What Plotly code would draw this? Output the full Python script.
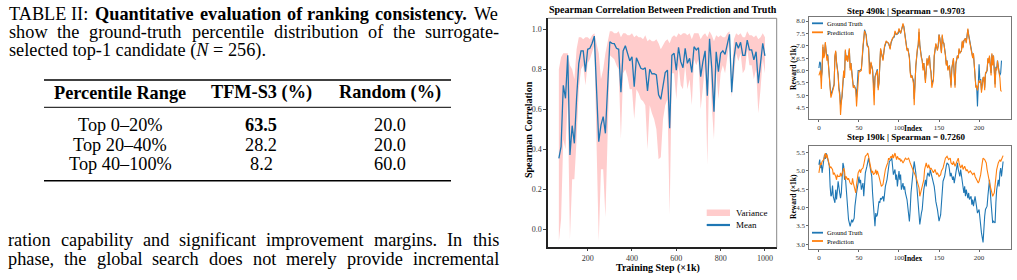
import plotly.graph_objects as go

W, H = 1017, 280
SERIF = "Liberation Serif"

# ---------------- data ----------------
table_header = ["Percentile Range", "TFM-S3 (%)", "Random (%)"]
table_ranges = ["Top 0–20%", "Top 20–40%", "Top 40–100%"]
table_tfm = ["63.5", "28.2", "8.2"]
table_random = ["20.0", "20.0", "60.0"]

steps = [70, 80, 90, 100, 110, 120, 130, 140, 150, 160, 170, 180, 190, 200, 210, 220, 230,
         250, 260, 270, 280, 300, 310, 320, 330, 340, 350, 360, 370, 380, 390, 400, 410, 420,
         430, 440, 450, 460, 470, 480, 490, 500, 510, 520, 530, 540, 550, 560, 570, 580, 590,
         600, 610, 620, 630, 640, 650, 660, 670, 680, 690, 700, 710, 720, 730, 740, 750, 760,
         770, 780, 790, 800, 810, 820, 830, 840, 850, 860, 870, 880, 890, 900, 910, 920, 930,
         940, 950, 960, 970, 980, 990, 1000]
mean_corr = [0.355, 0.413, 0.72, 0.655, 0.87, 0.372, 0.518, 0.43, 0.655, 0.83, 0.892, 0.892, 0.788,
             0.90, 0.905, 0.93, 0.966, 0.438, 0.521, 0.563, 0.48, 0.938, 0.93, 0.928, 0.905, 0.90,
             0.685, 0.892, 0.918, 0.883, 0.842, 0.863, 0.713, 0.858, 0.833, 0.805, 0.80, 0.808,
             0.692, 0.80, 0.777, 0.778, 0.772, 0.672, 0.65, 0.73, 0.784, 0.796, 0.505, 0.87, 0.88,
             0.796, 0.91, 0.838, 0.808, 0.905, 0.83, 0.855, 0.784, 0.913, 0.897, 0.908, 0.763,
             0.838, 0.892, 0.668, 0.952, 0.805, 0.588, 0.888, 0.788, 0.88, 0.892, 0.875, 0.925,
             0.975, 0.685, 0.855, 0.935, 0.905, 0.935, 0.87, 0.87, 0.946, 0.897, 0.897, 0.847,
             0.888, 0.73, 0.838, 0.93, 0.867]
lower_corr = [-0.06, 0.05, 0.45, 0.40, 0.65, -0.05, 0.25, 0.25, 0.45, 0.70, 0.80, 0.82, 0.72,
              0.83, 0.85, 0.88, 0.92, -0.06, 0.30, 0.30, 0.06, 0.87, 0.86, 0.85, 0.82, 0.80,
              0.45, 0.78, 0.80, 0.76, 0.70, 0.70, 0.55, 0.70, 0.68, 0.65, 0.64, 0.62, 0.40,
              0.62, 0.58, 0.55, 0.50, 0.35, 0.36, 0.55, 0.62, 0.65, 0.07, 0.78, 0.78, 0.65,
              0.82, 0.72, 0.70, 0.82, 0.70, 0.75, 0.62, 0.85, 0.82, 0.85, 0.60, 0.70, 0.82,
              0.32, 0.90, 0.62, 0.45, 0.80, 0.65, 0.78, 0.82, 0.78, 0.86, 0.94, 0.66, 0.78,
              0.88, 0.84, 0.88, 0.78, 0.80, 0.90, 0.82, 0.82, 0.75, 0.80, 0.58, 0.70, 0.85, 0.78]
upper_corr = [0.80, 0.86, 0.88, 0.88, 0.88, 0.82, 0.80, 0.75, 0.90, 0.96, 0.96, 0.95, 0.96,
              0.96, 0.95, 0.97, 0.98, 0.88, 0.75, 0.80, 0.88, 0.99, 0.99, 0.98, 0.98, 0.99,
              0.96, 0.98, 0.98, 0.97, 0.97, 0.98, 0.96, 0.97, 0.96, 0.96, 0.95, 0.97, 0.94,
              0.95, 0.94, 0.94, 0.95, 0.93, 0.90, 0.92, 0.94, 0.95, 0.93, 0.96, 0.97, 0.96,
              0.98, 0.97, 0.98, 0.98, 0.97, 0.98, 0.95, 0.98, 0.98, 0.98, 0.95, 0.97, 0.98,
              0.96, 0.99, 0.97, 0.94, 0.97, 0.96, 0.97, 0.96, 0.96, 0.98, 0.99, 0.75, 0.95,
              0.98, 0.97, 0.98, 0.96, 0.96, 0.99, 0.97, 0.97, 0.96, 0.97, 0.95, 0.96, 0.98, 0.96]

# Step 490k panel
idx_490 = [0, 1, 2, 3, 4, 5, 6, 7, 8, 10, 11, 12, 14, 15, 17, 19, 20, 21, 22, 24, 25, 26, 27, 28,
           29, 31, 32, 33, 34, 35, 36, 38, 39, 40, 42, 43, 44, 46, 47, 49, 50, 51, 53, 55, 56, 57,
           59, 60, 62, 63, 64, 65, 67, 68, 69, 70, 72, 73, 74, 75, 77, 79, 80, 82, 84, 85, 87, 89,
           90, 92, 94, 95, 97, 99, 100, 102, 104, 105, 106, 108, 109, 110, 111, 113, 114, 115, 116,
           118, 119, 120, 121, 123, 124, 125, 126, 128, 129, 130, 131, 133, 134, 135, 136, 138,
           139, 140, 141, 143, 144, 145, 146, 148, 149, 150, 151, 153, 154, 155, 156, 158, 159,
           160, 161, 163, 164, 165, 166, 168, 169, 170, 171, 173, 174, 175, 176, 178, 179, 180,
           181, 183, 184, 185, 186, 187, 188, 190, 191, 192, 193, 195, 196, 197, 198, 200, 201,
           202, 203, 205, 206, 207, 208, 210, 211, 212, 213, 215, 216, 217, 218, 220, 221, 222,
           223, 225, 226, 227, 228]
pred_490 = [5.8, 5.95, 6.0, 5.25, 5.9, 7.05, 6.5, 6.6, 7.15, 6.4, 6.6, 6.0, 5.3, 4.9, 5.2, 5.4,
            6.6, 6.8, 6.3, 5.8, 5.2, 5.0, 4.2, 4.75, 4.9, 6.0, 5.7, 6.85, 6.4, 6.6, 6.35, 6.9,
            6.0, 6.3, 5.6, 5.3, 5.4, 5.2, 4.55, 5.9, 6.0, 5.95, 6.0, 7.0, 7.55, 7.6, 7.4, 7.0,
            6.95, 5.9, 5.85, 6.35, 6.0, 5.5, 4.6, 5.7, 5.9, 6.0, 5.2, 5.5, 6.9, 6.6, 6.4, 7.0,
            7.2, 7.15, 7.1, 6.85, 7.15, 7.3, 7.4, 7.6, 7.45, 7.55, 7.7, 7.5, 7.85, 7.9, 7.75,
            7.3, 7.1, 6.8, 6.9, 6.5, 5.9, 5.7, 5.8, 5.5, 4.6, 5.5, 6.2, 6.9, 7.05, 7.7, 7.0,
            6.5, 6.4, 6.0, 6.3, 5.5, 6.1, 6.5, 6.2, 6.6, 6.1, 5.9, 5.3, 5.6, 6.6, 6.8, 7.1,
            6.8, 7.0, 7.45, 7.3, 6.7, 7.45, 7.1, 7.1, 6.6, 6.2, 6.4, 6.0, 6.2, 5.5, 5.3, 6.1,
            6.5, 5.8, 5.3, 6.3, 6.6, 6.5, 6.9, 6.7, 6.8, 7.2, 6.9, 7.2, 7.3, 7.1, 7.5, 7.7,
            7.4, 7.2, 6.9, 6.7, 6.5, 6.7, 5.8, 5.3, 5.4, 5.2, 5.6, 5.5, 5.6, 5.1, 5.7, 5.75,
            5.2, 5.9, 6.0, 6.5, 6.3, 6.6, 5.8, 6.7, 6.2, 6.6, 5.3, 6.1, 6.0, 6.4, 5.9, 5.7,
            5.2, 5.15]
gt_490 = [6.1, 6.35, 6.3, 5.7, 5.95, 6.95, 6.6, 6.65, 7.1, 6.5, 6.65, 6.1, 5.35, 5.0, 5.25, 5.45,
          6.55, 6.75, 6.35, 5.85, 5.3, 5.1, 4.6, 4.8, 4.95, 5.95, 5.8, 6.8, 6.45, 6.6, 6.4, 6.85,
          6.1, 6.3, 5.65, 5.35, 5.4, 5.25, 4.9, 6.0, 6.0, 6.0, 6.05, 7.0, 7.5, 7.65, 7.45, 7.1,
          6.9, 6.0, 5.9, 6.3, 6.05, 5.6, 5.0, 5.75, 5.95, 6.05, 5.3, 5.5, 6.85, 6.6, 6.45, 6.95,
          7.15, 7.15, 7.1, 6.9, 7.1, 7.3, 7.35, 7.5, 7.45, 7.5, 7.65, 7.5, 7.8, 7.85, 7.8,
          7.35, 7.15, 6.85, 6.9, 6.55, 6.0, 5.75, 5.8, 5.6, 4.85, 5.55, 6.15, 6.85, 7.0, 7.55,
          7.05, 6.55, 6.4, 6.1, 6.3, 5.6, 6.1, 6.45, 6.25, 6.6, 6.15, 5.95, 5.45, 5.65, 6.55,
          6.75, 7.05, 6.85, 7.0, 7.45, 7.3, 6.75, 7.4, 7.15, 7.1, 6.65, 6.25, 6.4, 6.05, 6.2,
          5.6, 5.4, 6.1, 6.45, 5.85, 5.4, 6.25, 6.6, 6.5, 6.85, 6.7, 6.8, 7.15, 6.95, 7.2,
          7.3, 7.15, 7.45, 7.65, 7.45, 7.25, 6.95, 6.75, 6.55, 6.65, 5.9, 5.35, 5.35, 4.55,
          6.25, 5.6, 5.65, 5.2, 5.7, 5.7, 5.3, 5.85, 6.0, 6.45, 6.35, 6.55, 5.9, 6.65, 6.3,
          6.6, 5.45, 6.15, 6.05, 6.4, 5.95, 5.8, 5.9, 6.4]

# Step 190k panel
idx_190_gt = [0, 1, 2, 3, 4, 5, 6, 7, 8, 9, 11, 13, 14, 15, 16, 17, 18, 20, 21, 22, 23, 24, 26, 27,
              28, 29, 30, 31, 32, 33, 34, 35, 36, 37, 39, 40, 41, 42, 44, 45, 46, 47, 49, 50, 51,
              52, 53, 55, 56, 57, 58, 60, 61, 62, 63, 65, 66, 67, 68, 70, 71, 72, 73, 75, 76, 77,
              78, 80, 81, 82, 83, 85, 86, 87, 88, 90, 91, 92, 93, 95, 96, 97, 98, 100, 101, 102,
              103, 105, 106, 107, 108, 110, 111, 113, 114, 115, 117, 118, 119, 121, 122, 123, 125,
              126, 128, 129, 130, 131, 133, 134, 135, 136, 138, 139, 140, 141, 143, 144, 145, 146,
              148, 149, 150, 152, 153, 154, 155, 157, 158, 159, 160, 162, 163, 164, 165, 167, 168,
              169, 171, 172, 173, 174, 176, 177, 178, 179, 181, 182, 183, 184, 186, 187, 188, 190,
              191, 192, 193, 195, 196, 197, 198, 200, 201, 202, 203, 205, 206, 207, 208, 210, 211,
              212, 213, 215, 216, 217, 218, 220, 221, 222, 224, 225, 226, 227, 228, 229, 230]
gt_190 = [5.17, 5.31, 5.08, 5.22, 4.95, 5.17, 5.31, 5.45, 5.33, 5.49, 5.33, 5.13, 4.58, 4.31, 4.35,
          4.6, 4.3, 4.13, 4.49, 4.22, 4.45, 4.72, 4.4, 4.26, 4.4, 5.04, 5.22, 5.13, 4.76, 4.85,
          4.58, 4.26, 3.85, 3.67, 3.49, 3.58, 3.67, 3.6, 3.71, 4.04, 4.26, 4.4, 4.67, 4.85, 4.67,
          4.76, 4.49, 4.67, 4.31, 4.76, 4.95, 5.13, 5.31, 5.35, 5.22, 4.95, 4.85, 4.4, 4.04,
          3.49, 3.85, 3.76, 3.8, 4.17, 4.13, 4.26, 4.22, 4.31, 4.17, 4.4, 4.58, 4.76, 4.95,
          5.13, 5.26, 5.31, 5.35, 5.13, 4.9, 5.04, 4.76, 4.9, 4.58, 5.0, 4.76, 4.9, 4.49, 4.67,
          4.49, 4.58, 4.4, 4.22, 3.95, 3.62, 3.95, 4.4, 4.85, 5.13, 5.26, 4.95, 4.67, 4.31,
          3.95, 3.54, 3.85, 3.95, 4.22, 4.49, 4.76, 4.58, 4.85, 4.95, 4.85, 5.04, 4.95, 4.85,
          4.72, 4.58, 4.4, 4.17, 3.95, 3.76, 3.63, 3.8, 4.13, 4.49, 4.72, 4.85, 5.04, 5.13,
          5.22, 5.17, 5.04, 4.85, 4.95, 4.76, 4.85, 4.67, 4.95, 5.13, 5.22, 5.04, 4.85, 5.04,
          4.85, 4.67, 4.4, 4.58, 4.31, 4.49, 4.26, 4.4, 4.22, 4.31, 4.08, 4.22, 4.04, 4.31,
          4.13, 3.99, 3.85, 3.95, 3.67, 3.49, 3.31, 3.05, 3.49, 3.76, 3.95, 4.04, 4.31, 4.49,
          4.76, 4.13, 3.67, 3.58, 3.63, 3.58, 4.13, 4.49, 4.76, 4.58, 4.95, 5.08, 4.85, 5.13,
          5.26]
idx_190_pred = [0, 1, 2, 3, 4, 6, 8, 9, 10, 11, 13, 14, 15, 17, 18, 19, 21, 22, 23, 24, 26, 27, 28,
                29, 31, 32, 33, 34, 36, 37, 38, 39, 41, 42, 43, 44, 46, 47, 48, 49, 51, 52, 53, 55,
                56, 57, 58, 60, 61, 62, 63, 65, 66, 67, 68, 70, 71, 72, 73, 75, 76, 77, 78, 80, 81,
                82, 83, 85, 86, 87, 88, 90, 91, 92, 93, 95, 96, 97, 98, 100, 101, 102, 103, 105,
                106, 107, 108, 110, 112, 114, 116, 118, 121, 123, 125, 126, 128, 129, 131, 132,
                134, 135, 136, 137, 139, 140, 142, 143, 145, 147, 148, 150, 152, 153, 155, 157,
                158, 160, 162, 164, 165, 167, 168, 170, 172, 174, 175, 177, 179, 180, 182, 184,
                185, 187, 189, 190, 192, 194, 195, 197, 199, 200, 202, 204, 205, 207, 209, 210,
                212, 214, 216, 217, 219, 221, 222, 224, 226, 227, 229, 230]
pred_190 = [4.95, 5.13, 5.22, 5.17, 5.26, 5.31, 5.49, 5.35, 5.45, 5.35, 5.17, 5.08, 5.11, 5.04, 4.9,
            4.95, 4.85, 4.76, 4.9, 4.85, 4.85, 4.95, 4.85, 4.95, 5.08, 5.0, 4.76, 4.85, 4.76, 4.8,
            4.72, 4.67, 4.63, 4.8, 4.67, 4.54, 4.4, 4.63, 4.76, 4.95, 5.04, 4.95, 5.04, 5.08,
            5.17, 5.31, 5.4, 5.45, 5.49, 5.4, 5.26, 5.08, 4.95, 5.0, 4.9, 4.95, 5.04, 4.9, 5.0,
            4.85, 4.76, 4.67, 4.58, 4.63, 4.76, 4.85, 5.04, 5.17, 5.22, 5.35, 5.31, 5.4, 5.35,
            5.45, 5.35, 5.49, 5.4, 5.31, 5.4, 5.31, 5.35, 5.26, 5.31, 5.22, 5.26, 5.31, 5.35,
            5.31, 5.35, 5.22, 5.13, 5.0, 4.85, 4.72, 4.54, 4.31, 4.49, 4.58, 4.76, 5.04, 5.22,
            5.13, 5.08, 5.17, 5.04, 5.08, 5.0, 4.95, 5.04, 4.9, 4.95, 4.85, 4.9, 5.0, 5.08, 5.22,
            5.35, 5.4, 5.31, 5.35, 5.22, 5.17, 5.26, 5.13, 5.22, 5.35, 5.22, 5.08, 5.17, 5.04,
            5.13, 5.0, 5.04, 4.95, 5.0, 4.95, 4.9, 4.95, 4.85, 4.76, 4.67, 4.72, 4.9, 5.22, 5.35,
            5.31, 5.22, 5.04, 4.76, 4.58, 4.4, 4.31, 4.4, 4.76, 5.04, 5.22, 5.31, 5.26, 5.4, 5.42]

BLUE = "#1f77b4"
ORANGE = "#ff7f0e"
PINK = "#ffcccc"

# approximate Times (Liberation Serif) advance widths, per 1000 em, for justified lines
_ROMAN = dict(zip("abcdefghijklmnopqrstuvwxyz",
                  [444, 500, 444, 500, 444, 333, 500, 500, 278, 278, 500, 278, 778, 500, 500, 500,
                   500, 333, 389, 278, 500, 500, 722, 500, 500, 444]))
_ROMAN.update({"T": 611, "A": 722, "B": 667, "L": 611, "E": 611, "I": 333, "W": 944,
               " ": 250, ".": 250, ",": 250, ":": 278, "-": 333})
_BOLD = dict(zip("abcdefghijklmnopqrstuvwxyz",
                 [500, 556, 444, 556, 444, 333, 500, 556, 278, 333, 556, 278, 833, 556, 500, 556,
                  556, 444, 389, 333, 556, 500, 722, 500, 500, 444]))
_BOLD.update({"Q": 778, " ": 250, ".": 250, ",": 250, "-": 333})


def word_width(word, size, bold):
    table = _BOLD if bold else _ROMAN
    return sum(table.get(c, 500) for c in word) * size / 1000.0


def fx(px):
    return px / W


def fy(py):
    return 1 - py / H


fig = go.Figure()

# main chart
fig.add_trace(go.Scatter(x=steps, y=lower_corr, mode="lines", line=dict(width=0, color=PINK),
                         hoverinfo="skip", showlegend=False, xaxis="x", yaxis="y"))
fig.add_trace(go.Scatter(x=steps, y=upper_corr, mode="lines", line=dict(width=0, color=PINK),
                         fill="tonexty", fillcolor=PINK, showlegend=False, xaxis="x", yaxis="y"))
fig.add_trace(go.Scatter(x=steps, y=mean_corr, mode="lines", line=dict(width=1.3, color=BLUE),
                         showlegend=False, xaxis="x", yaxis="y"))

# step 490k
fig.add_trace(go.Scatter(x=idx_490, y=gt_490, mode="lines", line=dict(width=1.1, color=BLUE),
                         showlegend=False, xaxis="x2", yaxis="y2"))
fig.add_trace(go.Scatter(x=idx_490, y=pred_490, mode="lines", line=dict(width=1.1, color=ORANGE),
                         showlegend=False, xaxis="x2", yaxis="y2"))
# step 190k
fig.add_trace(go.Scatter(x=idx_190_gt, y=gt_190, mode="lines", line=dict(width=1.1, color=BLUE),
                         showlegend=False, xaxis="x3", yaxis="y3"))
fig.add_trace(go.Scatter(x=idx_190_pred, y=pred_190, mode="lines", line=dict(width=1.1, color=ORANGE),
                         showlegend=False, xaxis="x3", yaxis="y3"))

tickfont_main = dict(family=SERIF, size=8, color="#333")
tickfont_small = dict(family=SERIF, size=7, color="#333")

small_axis = dict(showgrid=False, zeroline=False, showline=True, mirror=True, linecolor="#777",
                  linewidth=1, ticks="outside", ticklen=2, tickcolor="#666", tickfont=tickfont_small)

layout = dict(
    width=W, height=H, margin=dict(l=0, r=0, t=0, b=0),
    paper_bgcolor="white", plot_bgcolor="white", showlegend=False,
    font=dict(family=SERIF, color="black"),
    xaxis=dict(domain=[fx(548), fx(776.7)], range=[21, 1053], tickvals=[200, 400, 600, 800, 1000],
               showgrid=False, zeroline=False, showline=True, linecolor="#222", linewidth=1.5,
               ticks="outside", ticklen=2, tickcolor="#444", tickfont=tickfont_main, anchor="y"),
    yaxis=dict(domain=[fy(247.3), fy(18.3)], range=[-0.09, 1.055],
               tickvals=[0.0, 0.2, 0.4, 0.6, 0.8, 1.0], tickformat=".1f",
               showgrid=False, zeroline=False, showline=True, linecolor="#222", linewidth=1.5,
               ticks="outside", ticklen=3, tickcolor="#444", tickfont=tickfont_main, anchor="x"),
    xaxis2=dict(domain=[fx(809.3), fx(1010.7)], range=[-12, 239.5], tickvals=[0, 50, 100, 150, 200],
                anchor="y2", **small_axis),
    yaxis2=dict(domain=[fy(119), fy(17.3)], range=[4.04, 8.15],
                tickvals=[4.5, 5.0, 5.5, 6.0, 6.5, 7.0, 7.5, 8.0], tickformat=".1f",
                anchor="x2", **small_axis),
    xaxis3=dict(domain=[fx(809.3), fx(1010.7)], range=[-12, 239.5], tickvals=[0, 50, 100, 150, 200],
                anchor="y3", **small_axis),
    yaxis3=dict(domain=[fy(249), fy(145.7)], range=[2.87, 5.69],
                tickvals=[3.0, 3.5, 4.0, 4.5, 5.0, 5.5], tickformat=".1f",
                anchor="x3", **small_axis),
)
fig.update_layout(**layout)

shapes = []
ann = []


def text(x, y, s, size, bold=False, xanchor="left", angle=0, color="black"):
    if bold:
        s = "<b>" + s + "</b>"
    ann.append(dict(x=fx(x), y=fy(y), xref="paper", yref="paper", text=s, showarrow=False,
                    xanchor=xanchor, yanchor="middle", textangle=angle,
                    font=dict(family=SERIF, size=size, color=color)))


def justified(words, x0, x1, y, size):
    """words: list of (word, bold). Spread between x0 and x1 like TeX justification."""
    widths = [word_width(w, size, b) for w, b in words]
    gap = (x1 - x0 - sum(widths)) / (len(words) - 1)
    x = x0
    for (w, b), wd in zip(words, widths):
        text(x, y, w, size, bold=b)
        x += wd + gap


def hline(x0, x1, y, width, color="black"):
    shapes.append(dict(type="line", xref="paper", yref="paper", x0=fx(x0), x1=fx(x1),
                       y0=fy(y), y1=fy(y), line=dict(color=color, width=width)))


# main frame top/right (gray)
shapes.append(dict(type="line", xref="x domain", yref="y domain", x0=0, x1=1, y0=1, y1=1,
                   line=dict(color="#888", width=1)))
shapes.append(dict(type="line", xref="x domain", yref="y domain", x0=1, x1=1, y0=0, y1=1,
                   line=dict(color="#888", width=1)))

BODY = 18.3
LEFT, RIGHT = 7, 497
justified([("TABLE II:", False), ("Quantitative", True), ("evaluation", True), ("of", True),
           ("ranking", True), ("consistency.", True), ("We", False)], LEFT, RIGHT, 13.5, BODY)
justified([(w, False) for w in "show the ground-truth percentile distribution of the surrogate-".split()],
          LEFT, RIGHT, 32, BODY)
text(LEFT, 50.5, "selected top-1 candidate (<i>N</i> = 256).", BODY)

# table
hline(44, 451, 80, 1.6)
hline(44, 451, 107.3, 1.0)
hline(44, 451, 180.7, 1.6)
col_x = [120, 261, 390]
for cx, h in zip(col_x, table_header):
    text(cx, 93, h, BODY, bold=True, xanchor="center")
row_y = [125.5, 145, 163.5]
best = max(table_tfm, key=float)
for ry, r, t, rnd in zip(row_y, table_ranges, table_tfm, table_random):
    text(col_x[0], ry, r, BODY, xanchor="center")
    text(col_x[1], ry, t, BODY, bold=(t == best), xanchor="center")
    text(col_x[2], ry, rnd, BODY, xanchor="center")

# body text
justified([(w, False) for w in "ration capability and significant improvement margins. In this".split()],
          6, RIGHT, 240.5, BODY)
justified([(w, False) for w in "phase, the global search does not merely provide incremental".split()],
          6, RIGHT, 259, BODY)

# main chart titles and labels
text(662.5, 10, "Spearman Correlation Between Prediction and Truth", 10, bold=True, xanchor="center")
text(658, 267.5, "Training Step (×1k)", 10, bold=True, xanchor="center")
text(528, 130, "Spearman Correlation", 10, bold=True, xanchor="center", angle=-90)

# main legend
shapes.append(dict(type="rect", xref="paper", yref="paper", x0=fx(706.7), x1=fx(730),
                   y0=fy(216), y1=fy(209.5), fillcolor=PINK, line=dict(width=0)))
shapes.append(dict(type="line", xref="paper", yref="paper", x0=fx(706.7), x1=fx(730),
                   y0=fy(225), y1=fy(225), line=dict(color=BLUE, width=2.2)))
text(734, 212.7, "Variance", 9)
text(734, 225, "Mean", 9)

# small panel titles / labels
text(906.7, 10.7, "Step 490k | Spearman = 0.9703", 9, bold=True, xanchor="center")
text(906.7, 137, "Step 190k | Spearman = 0.7260", 9, bold=True, xanchor="center")
text(913, 128.5, "Index", 7.5, bold=True, xanchor="center")
text(913, 258.5, "Index", 7.5, bold=True, xanchor="center")
text(793, 68, "Reward (×1k)", 7.5, bold=True, xanchor="center", angle=-90)
text(793, 197, "Reward (×1k)", 7.5, bold=True, xanchor="center", angle=-90)

# small legends
for (yg, yp) in [(23.3, 32.3), (232.7, 241)]:
    shapes.append(dict(type="line", xref="paper", yref="paper", x0=fx(812), x1=fx(823),
                       y0=fy(yg), y1=fy(yg), line=dict(color=BLUE, width=1.8)))
    shapes.append(dict(type="line", xref="paper", yref="paper", x0=fx(812), x1=fx(823),
                       y0=fy(yp), y1=fy(yp), line=dict(color=ORANGE, width=1.8)))
    text(825, yg, "Ground Truth", 6.5)
    text(825, yp, "Prediction", 6.5)

fig.update_layout(shapes=shapes, annotations=ann)
fig.write_html("out.html")
